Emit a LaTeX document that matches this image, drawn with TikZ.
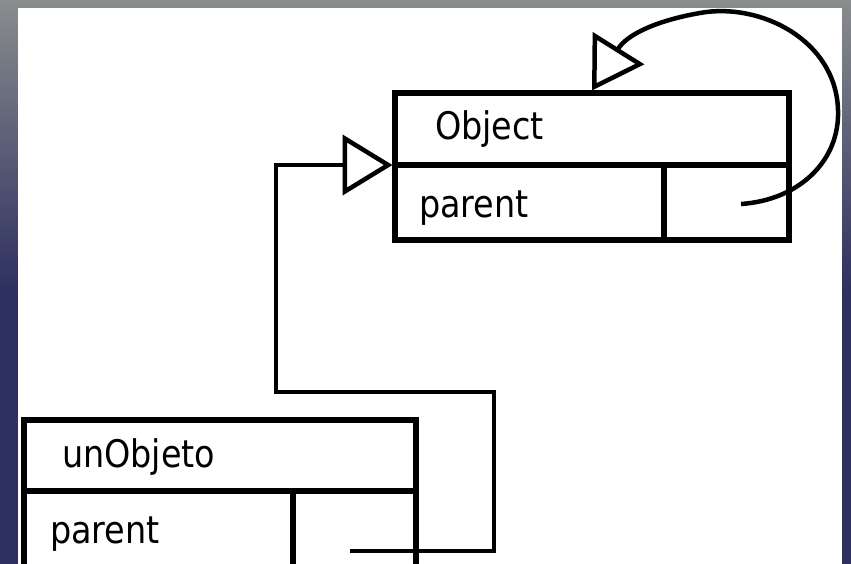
\documentclass[tikz,border=0pt]{standalone}
\usepackage{fontspec}
\setmainfont{DejaVu Sans}
\usetikzlibrary{arrows.meta}
\definecolor{framegray}{RGB}{137,141,141}
\definecolor{framenavy}{RGB}{46,48,96}
\begin{document}
\begin{tikzpicture}[x=1pt,y=-1pt,
  cell/.style={draw=black, line width=5.5pt, inner sep=0pt, outer sep=0pt, anchor=north west},
  fieldtext/.style={anchor=base west, inner sep=0pt, outer sep=0pt, font=\fontsize{38}{40}\selectfont},
  link/.style={line width=4.5pt, -{Triangle[open,length=50pt,width=60pt]}}]
  \useasboundingbox (0,0) rectangle (851,564);
  \clip (0,0) rectangle (851,564);

  % slide frame and white page
  \fill[framenavy] (0,0) rectangle (851,564);
  \shade[top color=framegray, bottom color=framenavy] (0,0) rectangle (851,290);
  \fill[white] (18,8) rectangle (842,564);

  % class box: Object
  \node[cell, minimum width=394pt, minimum height=72pt] (objhead) at (395,93) {};
  \node[cell, minimum width=269pt, minimum height=75pt] (objname) at (395,165) {};
  \node[cell, minimum width=125pt, minimum height=75pt] (objval) at (664,165) {};
  \node[fieldtext] (objtitle) at (435,140) {\scalebox{0.88}[1]{Object}};
  \node[fieldtext] (objfield) at (419,218) {\scalebox{0.88}[1]{parent}};

  % instance box: unObjeto
  \node[cell, minimum width=392pt, minimum height=71pt] (unhead) at (24,420) {};
  \node[cell, minimum width=269pt, minimum height=110pt] (unname) at (24,491) {};
  \node[cell, minimum width=123pt, minimum height=110pt] (unval) at (293,491) {};
  \node[fieldtext] (untitle) at (62,467) {\scalebox{0.88}[1]{unObjeto}};
  \node[fieldtext] (unfield) at (50,543) {\scalebox{0.88}[1]{parent}};

  % parent references
  \coordinate (unref) at (350,551);
  \coordinate (objref) at (741,204);

  \draw[link] (unref) -- (494,551) -- (494,392) -- (276,392)
    |- ([xshift=-2.5pt]objhead.south west);

  \draw[link] (objref) .. controls (800,200) and (840,160) .. (838,110)
    .. controls (836,40) and (760,2) .. (700,13)
    .. controls (660,20) and (628,33) .. ([xshift=197pt,yshift=2.5pt]objhead.north west);
\end{tikzpicture}
\end{document}
